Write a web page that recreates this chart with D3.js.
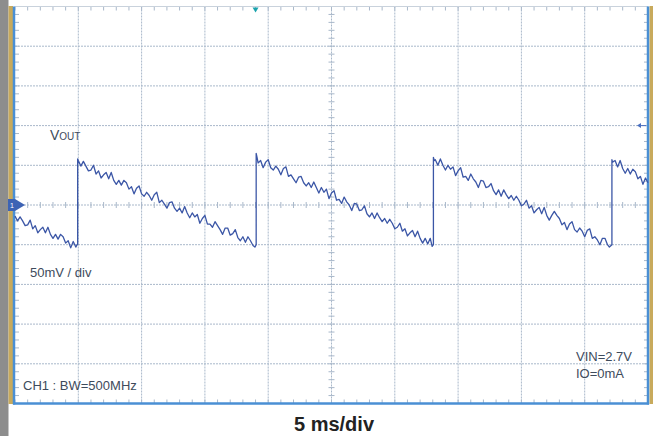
<!DOCTYPE html>
<html><head><meta charset="utf-8">
<script src="https://cdn.jsdelivr.net/npm/d3@7"></script>
<style>html,body{margin:0;padding:0;background:#fff;}svg{display:block;font-family:Arial,"Liberation Sans",sans-serif;}</style>
</head><body><svg id="c" width="653" height="436"></svg>
<script>
// Time axis: 5 ms/div, 10 divisions; voltage axis: 50 mV/div, 10 divisions (centred)
const timeTicks = [0,5,10,15,20,25,30,35,40,45,50];
const voltTicks = [-250,-200,-150,-100,-50,0,50,100,150,200,250];

// VOUT trace: time (ms) and voltage (mV, relative to centre line)
const ramp0Time = [0,0.2,0.4,0.6,0.8,1,1.2,1.4,1.6,1.8,2,2.2,2.4,2.6,2.8,3,3.2,3.4,3.6,3.8,4,4.2,4.4,4.6,4.8,4.9,4.95,4.95];
const ramp0Volt = [-14,-20,-15,-20,-26,-25,-19,-30,-26,-35,-31,-28,-35,-28,-37,-42,-37,-43,-37,-40,-48,-45,-54,-46,-53,-50,-50,58];

const ramp1Time = [5,5.2,5.4,5.6,5.8,6,6.2,6.4,6.6,6.8,7,7.2,7.4,7.6,7.8,8,8.2,8.4,8.6,8.8,9,9.2,9.4,9.6,9.8,10,10.2,10.4,10.6,10.8,11,11.2,11.4,11.6,11.8,12,12.2,12.4,12.6,12.8,13,13.2,13.4,13.6,13.8,14,14.2,14.4,14.6,14.8,15,15.2,15.4,15.6,15.8,16,16.2,16.4,16.6,16.8,17,17.2,17.4,17.6,17.8,18,18.2,18.4,18.6,18.8,18.95,19.05,19.05,19.12];
const ramp1Volt = [56,49,55,49,43,44,50,39,43,34,38,41,33,41,31,26,31,25,31,28,20,23,14,21,24,14,11,16,12,6,13,16,3,6,1,-4,3,4,-4,-8,-4,-10,-2,-10,-16,-10,-15,-12,-23,-17,-13,-24,-24,-28,-21,-26,-31,-37,-29,-29,-38,-36,-31,-41,-45,-40,-47,-40,-45,-51,-53,-50,65,60];

const ramp2Time = [19.2,19.4,19.6,19.8,20,20.2,20.4,20.6,20.8,21,21.2,21.4,21.6,21.8,22,22.2,22.4,22.6,22.8,23,23.2,23.4,23.6,23.8,24,24.2,24.4,24.6,24.8,25,25.2,25.4,25.6,25.8,26,26.2,26.4,26.6,26.8,27,27.2,27.4,27.6,27.8,28,28.2,28.4,28.6,28.8,29,29.2,29.4,29.6,29.8,30,30.2,30.4,30.6,30.8,31,31.2,31.4,31.6,31.8,32,32.2,32.4,32.6,32.8,32.95,33.05,33.05,33.12];
const ramp2Volt = [53,56,47,54,57,47,44,49,45,38,46,48,36,38,33,28,35,36,28,24,28,22,29,22,15,22,16,20,8,15,18,6,7,2,10,4,0,-7,2,1,-7,-6,-1,-11,-15,-10,-17,-10,-16,-21,-17,-23,-18,-23,-30,-28,-23,-33,-30,-39,-35,-32,-40,-33,-42,-48,-42,-49,-42,-52,-50,60,56];

const ramp3Time = [33.2,33.4,33.6,33.8,34,34.2,34.4,34.6,34.8,35,35.2,35.4,35.6,35.8,36,36.2,36.4,36.6,36.8,37,37.2,37.4,37.6,37.8,38,38.2,38.4,38.6,38.8,39,39.2,39.4,39.6,39.8,40,40.2,40.4,40.6,40.8,41,41.2,41.4,41.6,41.8,42,42.2,42.4,42.6,42.8,43,43.2,43.4,43.6,43.8,44,44.2,44.4,44.6,44.8,45,45.2,45.4,45.6,45.8,46,46.2,46.4,46.6,46.8,46.95,47.15,47.15];
const ramp3Volt = [57,50,58,50,44,50,45,48,37,43,47,35,36,31,39,33,29,22,31,30,22,23,27,18,13,19,11,19,13,8,12,6,11,6,-1,1,6,-4,-1,-10,-6,-3,-11,-3,-13,-19,-13,-8,-13,-17,-25,-22,-31,-24,-21,-31,-34,-29,-33,-40,-32,-30,-42,-40,-44,-50,-42,-42,-50,-53,-50,57];

const ramp4Time = [47.2,47.4,47.6,47.8,48,48.2,48.4,48.6,48.8,49,49.2,49.4,49.6,49.8,50];
const ramp4Volt = [54,56,48,56,46,40,46,39,45,42,33,36,26,34,28];

const svg = d3.select('#c');
const L = 15, R = 648, T = 6.5, B = 403.5;
const x = d3.scaleLinear().domain([0,50]).range([L,R]);
const y = d3.scaleLinear().domain([-250,250]).range([B,T]);
const gridCol = '#a9b8ca';

// frame strips
svg.append('rect').attr('x',0).attr('y',0).attr('width',8.5).attr('height',436).attr('fill','#8d8d8d');
svg.append('rect').attr('x',8.5).attr('y',T-0.5).attr('width',4.5).attr('height',B-T+1).attr('fill','#c8aa5c');
svg.append('rect').attr('x',649.5).attr('y',T-0.5).attr('width',3.5).attr('height',B-T+1).attr('fill','#c8aa5c');

// grid
const g = svg.append('g');
g.selectAll('line.v').data(timeTicks.slice(1,-1)).join('line')
  .attr('x1',d=>x(d)).attr('x2',d=>x(d)).attr('y1',T).attr('y2',B)
  .attr('stroke',gridCol).attr('stroke-width',1).attr('stroke-dasharray','2,1');
g.selectAll('line.h').data(voltTicks.slice(1,-1)).join('line')
  .attr('x1',L).attr('x2',R).attr('y1',d=>y(d)).attr('y2',d=>y(d))
  .attr('stroke',gridCol).attr('stroke-width',1).attr('stroke-dasharray','2,1');

// minor ticks (1/5 division)
const minorT = d3.range(0,50.01,1);
const minorV = d3.range(-250,250.01,10);
function tickH(yy, len, dir){
  g.append('g').selectAll('line').data(minorT).join('line')
   .attr('x1',d=>x(d)).attr('x2',d=>x(d))
   .attr('y1',dir===0?yy-len:yy).attr('y2',dir===0?yy+len:yy+dir*len)
   .attr('stroke',gridCol).attr('stroke-width',1);
}
function tickV(xx, len, dir){
  g.append('g').selectAll('line').data(minorV).join('line')
   .attr('y1',d=>y(d)).attr('y2',d=>y(d))
   .attr('x1',dir===0?xx-len:xx).attr('x2',dir===0?xx+len:xx+dir*len)
   .attr('stroke',gridCol).attr('stroke-width',1);
}
tickH(y(0),3,0); tickV(x(25),3,0);
tickH(T,4,1); tickH(B,4,-1); tickV(L,4,1); tickV(R,4,-1);

// borders
svg.append('line').attr('x1',L).attr('x2',R).attr('y1',T).attr('y2',T).attr('stroke','#c9d2dc').attr('stroke-width',1);
svg.append('line').attr('x1',L-1).attr('x2',L-1).attr('y1',T).attr('y2',B+1).attr('stroke','#4a8fd4').attr('stroke-width',2.5);
svg.append('line').attr('x1',R).attr('x2',R).attr('y1',T).attr('y2',B+1).attr('stroke','#4a8fd4').attr('stroke-width',2.5);
svg.append('line').attr('x1',L-2).attr('x2',R+1).attr('y1',B).attr('y2',B).attr('stroke','#4a8fd4').attr('stroke-width',2.5);

// trace
const times = [].concat(ramp0Time, ramp1Time, ramp2Time, ramp3Time, ramp4Time);
const volts = [].concat(ramp0Volt, ramp1Volt, ramp2Volt, ramp3Volt, ramp4Volt);
const n = Math.min(times.length, volts.length);
const pts = d3.range(n).map(i=>[times[i], volts[i]]);
svg.append('path').datum(pts)
  .attr('d', d3.line().x(d=>x(d[0])).y(d=>y(d[1])))
  .attr('fill','none').attr('stroke','#3b56a6').attr('stroke-width',1.3).attr('stroke-linejoin','round');

// markers
svg.append('path').attr('d',`M${x(19)-3},${T+1}L${x(19)+3},${T+1}L${x(19)},${T+6}Z`).attr('fill','#1aa3ad');
svg.append('path').attr('d',`M8,${y(0)-6}L15,${y(0)-6}L25,${y(0)}L15,${y(0)+6}L8,${y(0)+6}Z`).attr('fill','#3d63b4');
svg.append('text').attr('x',12).attr('y',y(0)+3).attr('font-size',7).attr('fill','#fff').attr('text-anchor','middle').text('1');
svg.append('path').attr('d',`M${R-11},${y(100)}L${R-7},${y(100)-2.5}L${R-7},${y(100)+2.5}Z`).attr('fill','#4a6fc0');
svg.append('line').attr('x1',R-7).attr('x2',R-2).attr('y1',y(100)).attr('y2',y(100)).attr('stroke','#4a6fc0').attr('stroke-width',1);

// labels
const tc = '#3e4b5c';
const vt = svg.append('text').attr('x',50).attr('y',139.5).attr('fill',tc);
vt.append('tspan').attr('font-size',14).text('V');
vt.append('tspan').attr('font-size',10).text('OUT');
svg.append('text').attr('x',30).attr('y',277).attr('font-size',13).attr('fill',tc).text('50mV / div');
svg.append('text').attr('x',23).attr('y',390).attr('font-size',13).attr('fill',tc).text('CH1 : BW=500MHz');
svg.append('text').attr('x',576).attr('y',361).attr('font-size',13).attr('fill',tc).text('VIN=2.7V');
svg.append('text').attr('x',576).attr('y',377.5).attr('font-size',13).attr('fill',tc).text('IO=0mA');
svg.append('text').attr('x',334).attr('y',431).attr('font-size',20).attr('font-weight','bold').attr('fill','#222').attr('text-anchor','middle').text('5 ms/div');
</script></body></html>
